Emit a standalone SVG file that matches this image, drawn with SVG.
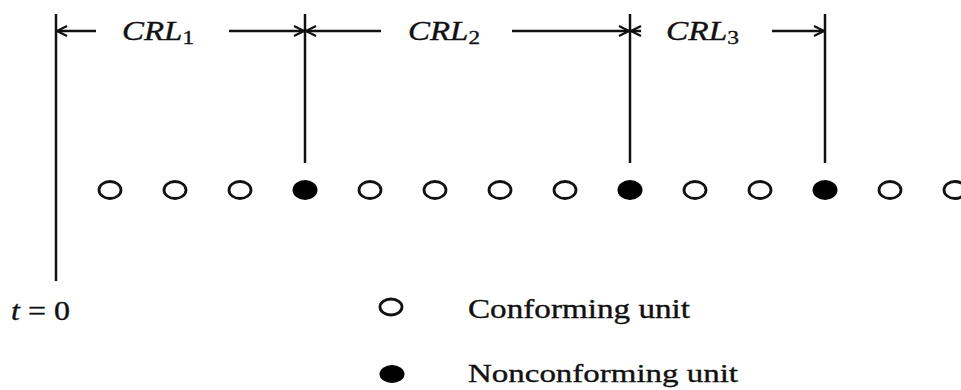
<svg xmlns="http://www.w3.org/2000/svg" width="961" height="390" viewBox="0 0 961 390">
<style>
.ln{stroke:#111;stroke-width:2.5;fill:none}
.open{fill:#fff;stroke:#111;stroke-width:2.8}
.fill{fill:#000}
.t{font-family:"Liberation Serif","Times New Roman",serif;fill:#111;stroke:#111;stroke-width:0.35}
.it{font-style:italic}
</style>
<defs>
<marker id="ah" viewBox="0 0 12 12" refX="11" refY="6" markerWidth="12" markerHeight="12" markerUnits="userSpaceOnUse" orient="auto">
<path d="M1,1 L11,6 L1,11" fill="none" stroke="#111" stroke-width="2.2"/>
</marker>
</defs>
<g id="connectors">
<line class="ln" x1="56" y1="14" x2="56" y2="281"/>
<line class="ln" x1="305" y1="14" x2="305" y2="163"/>
<line class="ln" x1="630" y1="14" x2="630" y2="163"/>
<line class="ln" x1="825" y1="14" x2="825" y2="163"/>
<line class="ln" x1="96" y1="31" x2="57" y2="31" marker-end="url(#ah)"/>
<line class="ln" x1="229" y1="31" x2="304" y2="31" marker-end="url(#ah)"/>
<line class="ln" x1="381" y1="31" x2="306" y2="31" marker-end="url(#ah)"/>
<line class="ln" x1="512" y1="31" x2="629" y2="31" marker-end="url(#ah)"/>
<line class="ln" x1="641" y1="31" x2="631" y2="31" marker-end="url(#ah)"/>
<line class="ln" x1="772" y1="31" x2="824" y2="31" marker-end="url(#ah)"/>
</g>
<g id="labels">
<text class="t it" x="122" y="40" font-size="27" textLength="72" lengthAdjust="spacingAndGlyphs">CRL<tspan font-style="normal" font-size="19" dy="4">1</tspan></text>
<text class="t it" x="408" y="40" font-size="27" textLength="72" lengthAdjust="spacingAndGlyphs">CRL<tspan font-style="normal" font-size="19" dy="4">2</tspan></text>
<text class="t it" x="666" y="40" font-size="27" textLength="73" lengthAdjust="spacingAndGlyphs">CRL<tspan font-style="normal" font-size="19" dy="4">3</tspan></text>
<text class="t" x="11" y="320" font-size="27" textLength="59" lengthAdjust="spacingAndGlyphs"><tspan class="it">t</tspan> = 0</text>
</g>
<g id="units">
<ellipse class="open" cx="110" cy="190" rx="11" ry="8.5"/>
<ellipse class="open" cx="175" cy="190" rx="11" ry="8.5"/>
<ellipse class="open" cx="240" cy="190" rx="11" ry="8.5"/>
<ellipse class="fill" cx="305" cy="190" rx="12.5" ry="10"/>
<ellipse class="open" cx="370" cy="190" rx="11" ry="8.5"/>
<ellipse class="open" cx="435" cy="190" rx="11" ry="8.5"/>
<ellipse class="open" cx="500" cy="190" rx="11" ry="8.5"/>
<ellipse class="open" cx="565" cy="190" rx="11" ry="8.5"/>
<ellipse class="fill" cx="630" cy="190" rx="12.5" ry="10"/>
<ellipse class="open" cx="695" cy="190" rx="11" ry="8.5"/>
<ellipse class="open" cx="760" cy="190" rx="11" ry="8.5"/>
<ellipse class="fill" cx="825" cy="190" rx="12.5" ry="10"/>
<ellipse class="open" cx="890" cy="190" rx="11" ry="8.5"/>
<ellipse class="open" cx="955" cy="190" rx="11" ry="8.5"/>
</g>
<g id="legend-conforming">
<ellipse class="open" cx="391" cy="307" rx="11" ry="8"/>
<text class="t" x="468" y="318" font-size="27" textLength="222" lengthAdjust="spacingAndGlyphs">Conforming unit</text>
</g>
<g id="legend-nonconforming">
<ellipse class="fill" cx="392" cy="374" rx="12.5" ry="9"/>
<text class="t" x="468" y="382" font-size="26" textLength="270" lengthAdjust="spacingAndGlyphs">Nonconforming unit</text>
</g>
</svg>
